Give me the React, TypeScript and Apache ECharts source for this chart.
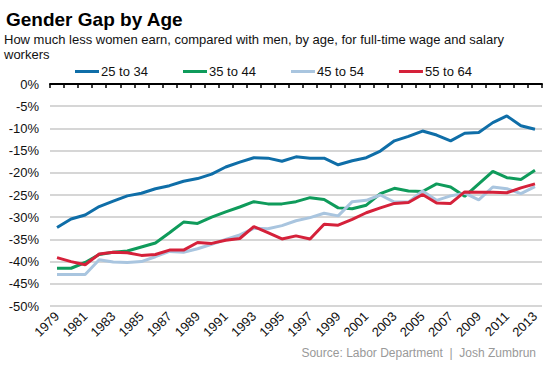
import React, { useEffect, useRef } from "react";
import * as echarts from "echarts";

const years: string[] = [];
for (let y = 1979; y <= 2013; y++) years.push(String(y));

const age2534 = [-32.3, -30.4, -29.5, -27.6, -26.4, -25.2, -24.6, -23.6, -22.9, -21.9, -21.3, -20.3, -18.7, -17.6, -16.6, -16.7, -17.4, -16.4, -16.7, -16.7, -18.2, -17.3, -16.6, -15.1, -12.8, -11.8, -10.6, -11.5, -12.8, -11.1, -10.9, -8.7, -7.2, -9.4, -10.2];
const age3544 = [-41.5, -41.5, -40.2, -38.4, -37.9, -37.6, -36.7, -35.8, -33.5, -31.1, -31.4, -30.0, -28.8, -27.7, -26.5, -27.0, -27.0, -26.5, -25.6, -26.0, -27.9, -28.1, -27.3, -24.7, -23.5, -24.1, -24.2, -22.5, -23.2, -25.3, -22.5, -19.7, -21.1, -21.5, -19.4];
const age4554 = [-42.9, -42.9, -42.9, -39.6, -40.1, -40.2, -40.0, -38.9, -37.7, -37.9, -37.1, -36.1, -35.0, -34.0, -32.5, -32.6, -31.9, -30.8, -30.1, -29.1, -29.7, -26.5, -26.2, -25.0, -26.6, -26.6, -24.1, -26.2, -25.2, -24.6, -26.1, -23.2, -23.6, -24.7, -23.1];
const age5564 = [-39.1, -40.0, -40.7, -38.3, -37.9, -38.0, -38.6, -38.4, -37.4, -37.4, -35.7, -35.9, -35.2, -34.8, -32.1, -33.5, -34.9, -34.2, -34.9, -31.6, -31.8, -30.5, -29.0, -27.9, -26.9, -26.7, -24.9, -26.8, -26.9, -24.3, -24.4, -24.4, -24.5, -23.4, -22.5];

const seriesNames = ["25 to 34", "35 to 44", "45 to 54", "55 to 64"];
const seriesColors = ["#0f6ea8", "#0f9b5b", "#a9c5df", "#d5213a"];
const seriesData = [age2534, age3544, age4554, age5564];

const FONT = "'Liberation Sans', Arial, sans-serif";

export default function App() {
  const ref = useRef<HTMLDivElement>(null);
  useEffect(() => {
    document.body.style.margin = "0";
    if (!ref.current) return;
    const chart = echarts.init(ref.current, undefined, { renderer: "svg" });
    chart.setOption({
      animation: false,
      backgroundColor: "#fff",
      textStyle: { fontFamily: FONT },
      title: [
        {
          text: "Gender Gap by Age",
          left: 6,
          top: 8,
          padding: 0,
          textStyle: { fontSize: 19, fontWeight: "bold", color: "#000", fontFamily: FONT, lineHeight: 22 },
        },
        {
          text: "How much less women earn, compared with men, by age, for full-time wage and salary workers",
          left: 4,
          top: 32,
          padding: 0,
          textStyle: {
            fontSize: 13,
            fontWeight: "normal",
            color: "#111",
            fontFamily: FONT,
            width: 520,
            overflow: "break",
            lineHeight: 15,
          },
        },
        {
          text: "Source: Labor Department  |  Josh Zumbrun",
          right: 17,
          top: 347,
          padding: 0,
          textStyle: { fontSize: 12, fontWeight: "normal", color: "#999", fontFamily: FONT },
        },
      ],
      legend: {
        left: 75,
        top: 65,
        padding: 0,
        itemWidth: 24,
        itemHeight: 3,
        itemGap: 35,
        icon: "rect",
        textStyle: { fontSize: 13, color: "#111", padding: [0, 0, 0, -3], fontFamily: FONT },
        data: seriesNames,
      },
      grid: { left: 50, right: 11, top: 84, bottom: 63, containLabel: false },
      xAxis: [
        {
          type: "category",
          data: years,
          position: "bottom",
          boundaryGap: true,
          axisLine: { show: false },
          axisTick: { show: false },
          axisLabel: {
            interval: 1,
            rotate: 45,
            fontSize: 13,
            color: "#111",
            margin: 8,
            fontFamily: FONT,
          },
        },
        {
          type: "category",
          data: years,
          position: "top",
          boundaryGap: true,
          axisLine: { show: true, onZero: false, lineStyle: { color: "#000", width: 2 } },
          axisTick: { show: true, inside: true, length: 4, interval: 0, lineStyle: { color: "#000", width: 1.5 } },
          axisLabel: { show: false },
        },
      ],
      yAxis: {
        type: "value",
        min: -50,
        max: 0,
        interval: 5,
        axisLine: { show: false },
        axisTick: { show: false },
        axisLabel: {
          formatter: (v: number) => `${v}%`,
          fontSize: 13,
          color: "#111",
          margin: 11,
          fontFamily: FONT,
        },
        splitLine: { show: true, lineStyle: { color: "#c8c8c8", width: 1.5 } },
      },
      series: seriesNames.map((name, i) => ({
        name,
        type: "line",
        xAxisIndex: 0,
        data: seriesData[i],
        symbol: "none",
        lineStyle: { color: seriesColors[i], width: 3 },
        itemStyle: { color: seriesColors[i] },
      })),
    });
    return () => chart.dispose();
  }, []);
  return <div ref={ref} style={{ width: 553, height: 369 }} />;
}
